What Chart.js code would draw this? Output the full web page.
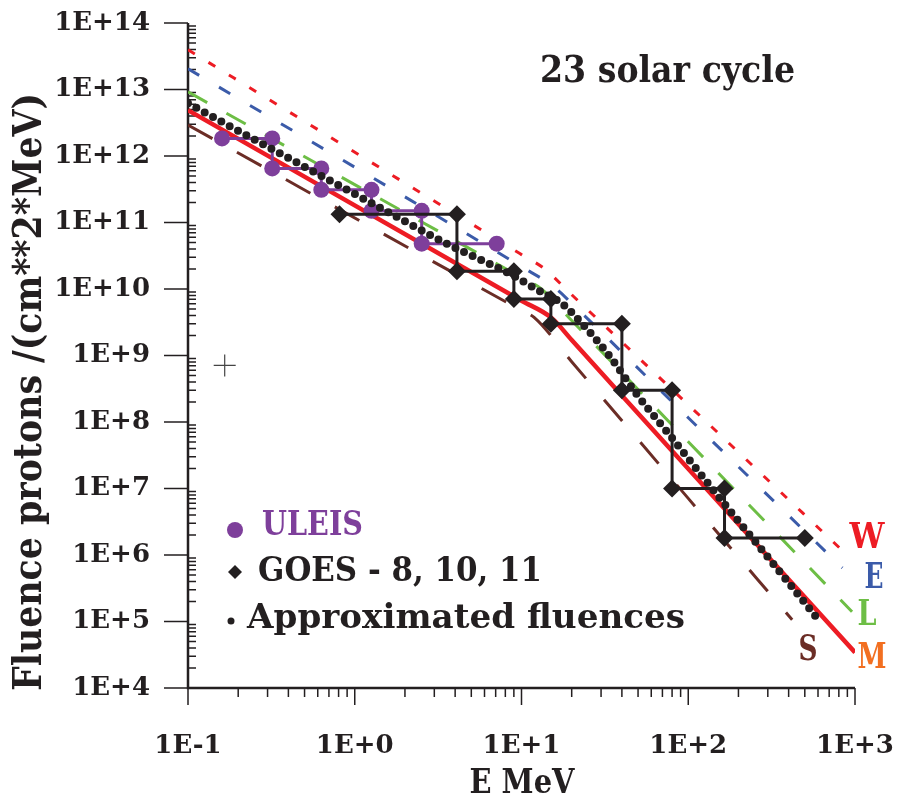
<!DOCTYPE html>
<html>
<head>
<meta charset="utf-8">
<script src="https://cdn.jsdelivr.net/npm/chart.js@4.4.1/dist/chart.umd.min.js"></script>
<style>
  html, body { margin: 0; padding: 0; background: #fff; }
  #wrap { width: 897px; height: 807px; }
</style>
</head>
<body>
<div id="wrap"><canvas id="chart"></canvas></div>
<script>
        // Data: energy (MeV) and fluence (protons / cm^2 MeV)
        const uleisE = [0.16, 0.32, 0.32, 0.63, 0.63, 1.26, 1.26, 2.52, 2.52, 7.1];
        const uleisF = [1.84e12, 1.84e12, 6.5e11, 6.5e11, 3.1e11, 3.1e11, 1.5e11, 1.5e11, 4.8e10, 4.8e10];

        const goesE = [0.81, 4.1, 4.1, 9, 9, 15, 15, 40, 40, 80, 80, 165, 165, 500];
        const goesF = [1.33e11, 1.33e11, 1.85e10, 1.85e10, 7.1e9, 7.1e9, 3.0e9, 3.0e9, 3.0e8, 3.0e8, 1.0e7, 1.0e7, 1.8e6, 1.8e6];

        const approxE = [0.1, 0.224, 0.448, 1.41, 3.56, 8.5, 12.5, 17.5, 24.7, 34.8, 49.2, 77.6, 155, 309, 617];
        const approxF = [6.2e12, 2.05e12, 8.0e11, 1.68e11, 4.8e10, 1.69e10, 9.7e9, 6.0e9, 2.5e9, 8.85e8, 2.6e8, 6.3e7, 7.1e6, 8.5e5, 9.9e4];

        const wE = [0.1, 10, 13.6, 20, 100, 900];
        const wF = [3.95e13, 3.29e10, 2.05e10, 8.2e9, 1.82e8, 9.9e5];
        const eE = [0.1, 10, 15.6, 20, 100, 840];
        const eF = [2.05e13, 2.16e10, 1.08e10, 6.07e9, 1.16e8, 6.4e5];
        const lE = [0.1, 10, 13.1, 20, 100, 960];
        const lF = [9.2e12, 1.48e10, 1.01e10, 3.36e9, 5.05e7, 1.4e5];
        const mE = [0.1, 10, 15.2, 20, 100, 1000];
        const mF = [4.9e12, 6.67e9, 3.65e9, 1.71e9, 1.98e7, 3.43e4];
        const sE = [0.1, 10, 11.9, 20, 100, 420];
        const sF = [2.92e12, 4.75e9, 3.74e9, 8.07e8, 7.1e6, 1.06e5];

        const crossE = [0.166];
        const crossF = [7.1e8];

        const xTicks = [0.1, 1, 10, 100, 1000];
        const yTicks = [1e4, 1e5, 1e6, 1e7, 1e8, 1e9, 1e10, 1e11, 1e12, 1e13, 1e14];

        const INK = '#231f20';
        const PURPLE = '#7e3f9b';
        const SERIF = '"DejaVu Serif", "Liberation Serif", serif';

        const pts = (xs, ys) => xs.map((x, i) => ({ x, y: ys[i] }));

        // 1E+14 style labels
        function expLabel(v) {
            const l = Math.log10(v);
            if (Math.abs(l - Math.round(l)) > 1e-6) return '';
            const n = Math.round(l);
            return '1E' + (n < 0 ? '-' : '+') + Math.abs(n);
        }

        function curve(label, xs, ys, color, dash, width, order) {
            return {
                label, data: pts(xs, ys), showLine: true, borderColor: color, borderWidth: width,
                borderDash: dash, pointRadius: 0, cubicInterpolationMode: 'monotone', order
            };
        }

        // text squeezed/stretched to a given width
        function fillFit(ctx, text, x, y, w, align) {
            const m = ctx.measureText(text).width;
            ctx.save();
            ctx.translate(x, y);
            ctx.scale(w / m, 1);
            ctx.textAlign = align;
            ctx.textBaseline = 'middle';
            ctx.fillText(text, 0, 0);
            ctx.restore();
        }

        const decor = {
            id: 'decor',
            beforeDatasetsDraw(chart) {
                const { ctx, chartArea: a, scales: { x, y } } = chart;
                ctx.save();
                ctx.strokeStyle = INK;
                ctx.lineWidth = 2.5;
                ctx.beginPath();
                ctx.moveTo(a.left, a.top);
                ctx.lineTo(a.left, a.bottom);
                ctx.lineTo(a.right, a.bottom);
                ctx.stroke();
                ctx.lineWidth = 1.5;
                ctx.beginPath();
                yTicks.forEach((t, i) => {
                    const py = y.getPixelForValue(t);
                    ctx.moveTo(a.left - 24, py); ctx.lineTo(a.left, py);
                    if (i < yTicks.length - 1) {
                        for (let m = 2; m <= 9; m++) {
                            const my = y.getPixelForValue(t * m);
                            ctx.moveTo(a.left, my); ctx.lineTo(a.left + 8, my);
                        }
                    }
                });
                xTicks.forEach((t, i) => {
                    const px = x.getPixelForValue(t);
                    ctx.moveTo(px, a.bottom); ctx.lineTo(px, a.bottom + 17);
                    if (i < xTicks.length - 1) {
                        for (let m = 2; m <= 9; m++) {
                            const mx = x.getPixelForValue(t * m);
                            ctx.moveTo(mx, a.bottom); ctx.lineTo(mx, a.bottom + 9);
                        }
                    }
                });
                ctx.stroke();
                ctx.restore();
            },
            afterDraw(chart) {
                const ctx = chart.ctx;
                ctx.save();
                ctx.fillStyle = INK;

                // title
                ctx.font = 'bold 37px ' + SERIF;
                fillFit(ctx, '23 solar cycle', 540, 72, 255, 'left');

                // axis titles
                ctx.font = 'bold 34px ' + SERIF;
                fillFit(ctx, 'E MeV', 522, 784, 105, 'center');
                ctx.save();
                ctx.translate(31, 392);
                ctx.rotate(-Math.PI / 2);
                ctx.font = 'bold 40px ' + SERIF;
                fillFit(ctx, 'Fluence protons /(cm**2*MeV)', 0, 0, 598, 'center');
                ctx.restore();

                // legend
                ctx.font = 'bold 34px ' + SERIF;
                ctx.fillStyle = PURPLE;
                ctx.beginPath(); ctx.arc(235, 530, 8, 0, Math.PI * 2); ctx.fill();
                fillFit(ctx, 'ULEIS', 262, 526, 101, 'left');
                ctx.fillStyle = INK;
                ctx.beginPath();
                ctx.moveTo(235, 565); ctx.lineTo(242, 572); ctx.lineTo(235, 579); ctx.lineTo(228, 572);
                ctx.closePath(); ctx.fill();
                fillFit(ctx, 'GOES - 8, 10, 11', 258, 572, 284, 'left');
                ctx.beginPath(); ctx.arc(231, 621, 3.5, 0, Math.PI * 2); ctx.fill();
                fillFit(ctx, 'Approximated fluences', 247, 619, 438, 'left');

                // curve labels
                ctx.font = 'bold 36px ' + SERIF;
                ctx.fillStyle = '#ed1c24'; fillFit(ctx, 'W', 867, 539, 35, 'center');
                ctx.fillStyle = '#3b5ba9'; fillFit(ctx, 'E', 874, 579, 19, 'center');
                ctx.fillStyle = '#6dbe45'; fillFit(ctx, 'L', 867, 616, 19, 'center');
                ctx.fillStyle = '#f26f21'; fillFit(ctx, 'M', 872, 659, 29, 'center');
                ctx.fillStyle = '#6b2d26'; fillFit(ctx, 'S', 808, 651, 19, 'center');
                ctx.restore();
            }
        };

        const ctx = document.getElementById('chart').getContext('2d');
        const myChart = new Chart(ctx, {
            type: 'scatter',
            data: {
                datasets: [
                    {
                        label: 'GOES - 8, 10, 11', data: pts(goesE, goesF), showLine: true,
                        borderColor: INK, borderWidth: 3, backgroundColor: INK,
                        pointStyle: 'rectRot', pointRadius: 9, pointBorderWidth: 0, order: 0
                    },
                    {
                        label: 'Approximated fluences', data: pts(approxE, approxF), showLine: true,
                        borderColor: INK, borderWidth: 8, borderDash: [0, 9.5], borderCapStyle: 'round',
                        pointRadius: 0, cubicInterpolationMode: 'monotone', order: 1
                    },
                    {
                        label: 'ULEIS', data: pts(uleisE, uleisF), showLine: true,
                        borderColor: PURPLE, borderWidth: 3, backgroundColor: PURPLE,
                        pointRadius: 8, pointBorderWidth: 0, order: 2
                    },
                    curve('M', mE, mF, '#ed1c24', [], 4.5, 3),
                    curve('S', sE, sF, '#6b2d26', [28, 28], 3, 4),
                    curve('L', lE, lF, '#6dbe45', [22, 22], 3, 5),
                    curve('E', eE, eF, '#3b5ba9', [13, 23], 3, 6),
                    curve('W', wE, wF, '#ed1c24', [8, 16], 3, 7),
                    {
                        label: 'mark', data: pts(crossE, crossF), showLine: false,
                        pointStyle: 'cross', pointRadius: 11, borderColor: '#444', pointBorderWidth: 1.2, order: 8
                    }
                ]
            },
            options: {
                responsive: true,
                maintainAspectRatio: false,
                animation: false,
                layout: { padding: 0 },
                plugins: { legend: { display: false }, tooltip: { enabled: false } },
                scales: {
                    x: {
                        type: 'logarithmic', min: 0.1, max: 1000,
                        grid: { display: false, drawTicks: false },
                        border: { display: false },
                        ticks: {
                            autoSkip: false, maxRotation: 0, padding: 43, color: INK,
                            font: { family: SERIF, weight: 'bold', size: 26 }, callback: expLabel
                        },
                        afterFit: s => { s.height = 807 - 688; s.paddingLeft = 0; s.paddingRight = 42; }
                    },
                    y: {
                        type: 'logarithmic', min: 1e4, max: 1e14,
                        grid: { display: false, drawTicks: false },
                        border: { display: false },
                        ticks: {
                            autoSkip: false, padding: 38, color: INK,
                            font: { family: SERIF, weight: 'bold', size: 26 }, callback: expLabel
                        },
                        afterFit: s => { s.width = 188; s.paddingTop = 23; s.paddingBottom = 0; }
                    }
                }
            },
            plugins: [decor]
        });
</script>
</body>
</html>
